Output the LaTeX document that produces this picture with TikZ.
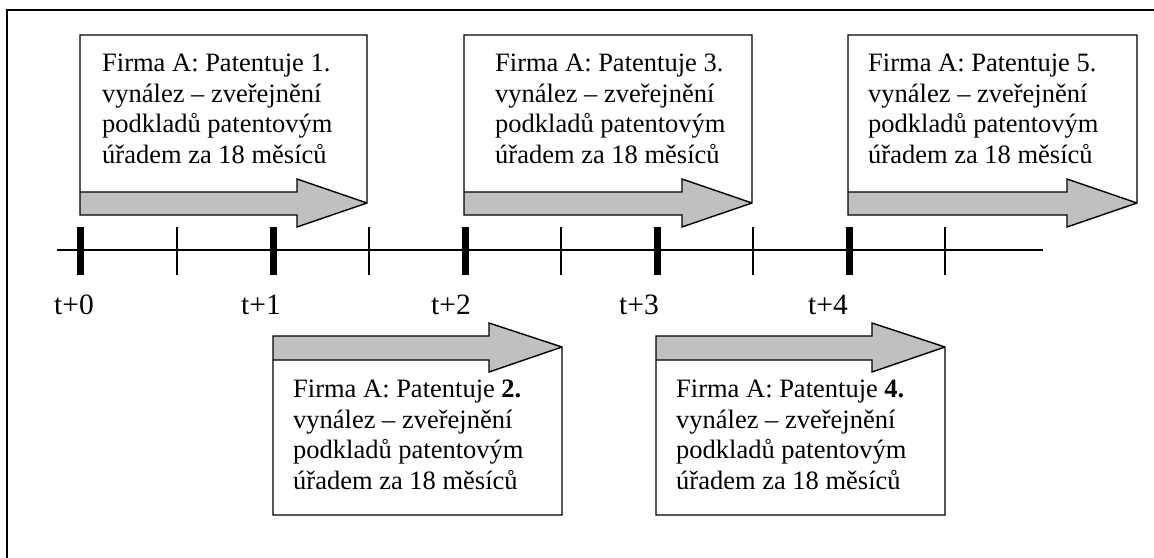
\documentclass[tikz,border=0pt]{standalone}
\usepackage{fontspec}
\setmainfont{Liberation Serif}
\definecolor{arrowgrey}{RGB}{192,192,192}
\tikzset{
  outl/.style={draw=black, line width=1.4pt, line join=miter},
  greyfill/.style={fill=arrowgrey},
  boxtext/.style={anchor=base west, inner sep=0pt, align=left, font=\fontsize{26.5}{30.5}\selectfont},
  ticklabel/.style={anchor=base, inner sep=0pt, font=\fontsize{29.5}{33}\selectfont},
  thicktick/.style={line width=7pt},
  thintick/.style={line width=1.4pt},
}
\newcommand{\topcallout}[2]{%
  \fill[white] (#1,35) -- (#2,35) -- (#2,203) -- ({#2-70},227) -- ({#2-70},215) -- (#1,215) -- cycle;
  \fill[greyfill] (#1,192) -- ({#2-70},192) -- ({#2-70},179) -- (#2,203) -- ({#2-70},227) -- ({#2-70},215) -- (#1,215) -- cycle;
  \draw[outl] (#1,35) -- (#2,35) -- (#2,203) -- ({#2-70},227) -- ({#2-70},215) -- (#1,215) -- cycle;
  \draw[outl] (#1,192) -- ({#2-70},192) -- ({#2-70},179) -- (#2,203);
}
\newcommand{\botcallout}[2]{%
  \fill[white] (#1,336) -- ({#2-73},336) -- ({#2-73},323) -- (#2,347) -- (#2,515) -- (#1,515) -- cycle;
  \fill[greyfill] (#1,336) -- ({#2-73},336) -- ({#2-73},323) -- (#2,347) -- ({#2-73},372) -- ({#2-73},360) -- (#1,360) -- cycle;
  \draw[outl] (#1,336) -- ({#2-73},336) -- ({#2-73},323) -- (#2,347) -- (#2,515) -- (#1,515) -- cycle;
  \draw[outl] (#1,360) -- ({#2-73},360) -- ({#2-73},372) -- (#2,347);
}
\begin{document}
\begin{tikzpicture}[x=1pt, y=-1pt]
\useasboundingbox (0,0) rectangle (1154,557);
\begin{scope}
\clip (0,0) rectangle (1154,557);
\draw[line width=2pt] (7,10) rectangle (1170,580);
\end{scope}

% timeline
\coordinate (tl0) at (57,250);
\coordinate (tl1) at (1043,250);
\draw[line width=1.4pt] (tl0) -- (tl1);
\foreach \x in {80,273,465,657,849} \draw[thicktick] (\x,227) -- (\x,275);
\foreach \x in {177,369,561,753,945} \draw[thintick] (\x,227) -- (\x,275);

\node[ticklabel] (l0) at (74,314) {t+0};
\node[ticklabel] (l1) at (261,314) {t+1};
\node[ticklabel] (l2) at (451,314) {t+2};
\node[ticklabel] (l3) at (639,314) {t+3};
\node[ticklabel] (l4) at (828,314) {t+4};

% callouts
\topcallout{80}{367}
\topcallout{464}{752}
\topcallout{848}{1137}
\botcallout{273}{562}
\botcallout{656}{945}

\node[boxtext] (t1) at (102,163) {Firma A: Patentuje 1.\\vynález – zveřejnění\\podkladů patentovým\\úřadem za 18 měsíců};
\node[boxtext] (t3) at (495,163) {Firma A: Patentuje 3.\\vynález – zveřejnění\\podkladů patentovým\\úřadem za 18 měsíců};
\node[boxtext] (t5) at (868,163) {Firma A: Patentuje 5.\\vynález – zveřejnění\\podkladů patentovým\\úřadem za 18 měsíců};
\node[boxtext] (t2) at (293,489) {Firma A: Patentuje \textbf{2.}\\vynález – zveřejnění\\podkladů patentovým\\úřadem za 18 měsíců};
\node[boxtext] (t4) at (676,489) {Firma A: Patentuje \textbf{4.}\\vynález – zveřejnění\\podkladů patentovým\\úřadem za 18 měsíců};
\end{tikzpicture}
\end{document}
